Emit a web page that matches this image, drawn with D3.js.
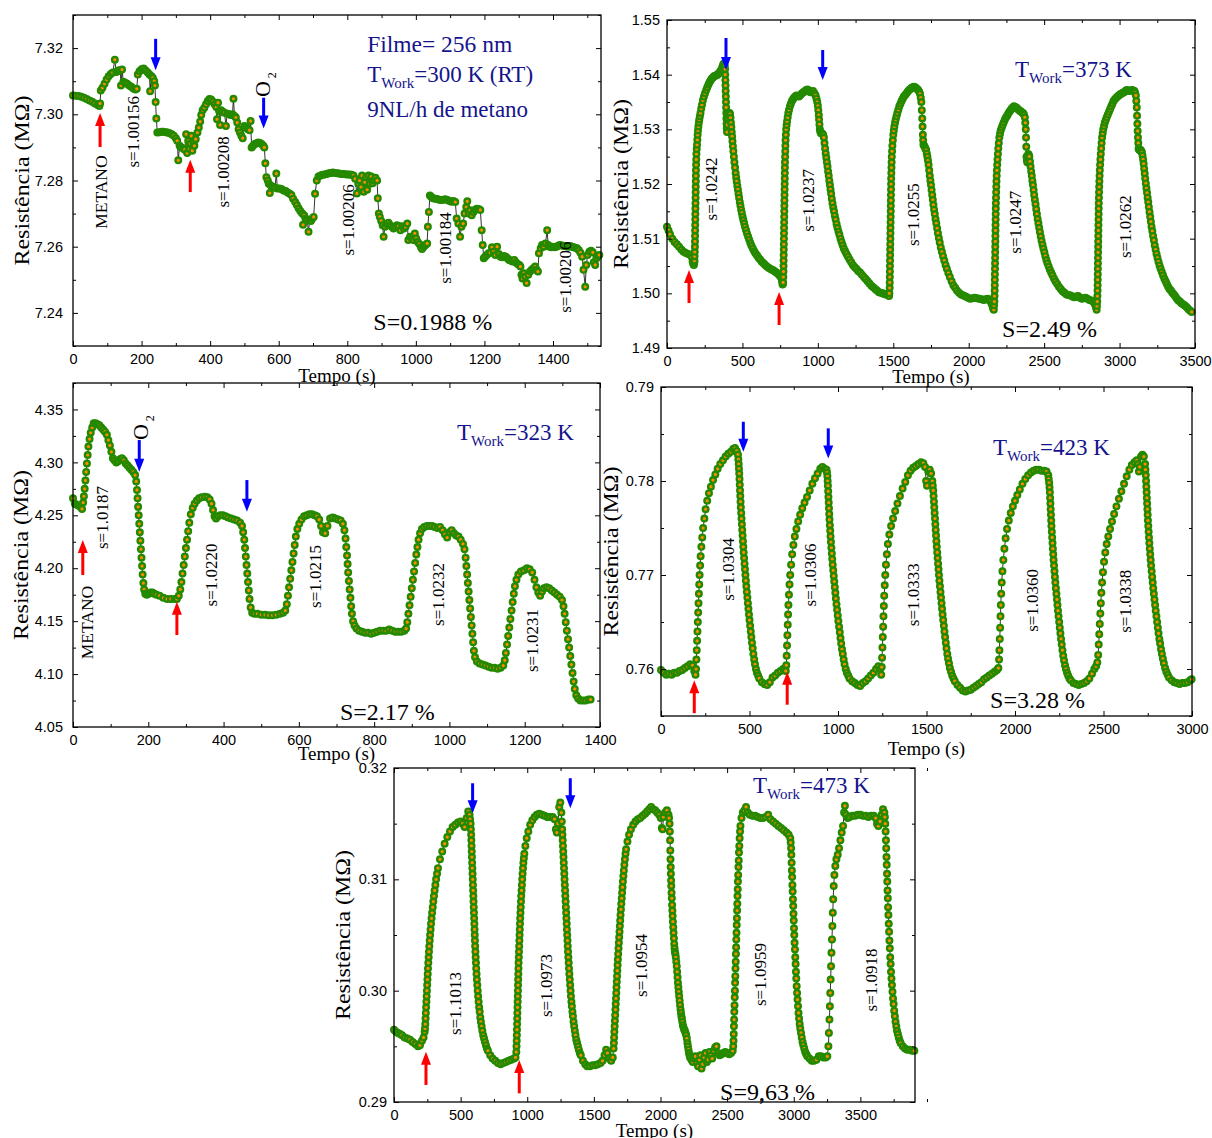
<!DOCTYPE html>
<html>
<head>
<meta charset="utf-8">
<script src="https://cdn.jsdelivr.net/npm/d3@7"></script>
<style>
  body { margin: 0; background: #fff; }
  svg { display: block; }
</style>
</head>
<body>
<svg id="fig" width="1212" height="1138"></svg>
<script>
// ---------------- Medidas: resistência (MΩ) x tempo (s) ----------------

// 300 K (temperatura ambiente)
const curva300K = [[0,7.3057],[8,7.3056],[16,7.3055],[24,7.3053],[32,7.3050],[40,7.3046],[48,7.3042],[56,7.3038],[64,7.3033],[72,7.3028],[77,7.3025],[79,7.3033],[81,7.3072],[86,7.3080],[92,7.3092],[98,7.3105],[104,7.3115],[110,7.3122],[116,7.3126],[122,7.3165],[126,7.3128],[130,7.3130],[134,7.3133],[138,7.3132],[140,7.3087],[143,7.3135],[147,7.3098],[152,7.3095],[158,7.3092],[164,7.3087],[170,7.3083],[176,7.3078],[182,7.3075],[186,7.3077],[189,7.3120],[194,7.3130],[200,7.3136],[206,7.3138],[212,7.3132],[218,7.3126],[223,7.3120],[225,7.3070],[229,7.3115],[233,7.3110],[237,7.3100],[239,7.3087],[241,7.3037],[243,7.2987],[246,7.2945],[252,7.2946],[258,7.2947],[264,7.2947],[270,7.2946],[276,7.2945],[282,7.2943],[288,7.2940],[294,7.2935],[300,7.2928],[304,7.2920],[307,7.2861],[311,7.2905],[316,7.2900],[322,7.2897],[326,7.2893],[330,7.2940],[333,7.2883],[336,7.2920],[339,7.2895],[342,7.2912],[345,7.2935],[348,7.2890],[351,7.2915],[354,7.2905],[358,7.2925],[363,7.2945],[367,7.2960],[371,7.2978],[374,7.2998],[378,7.3012],[383,7.3020],[388,7.3030],[393,7.3040],[398,7.3046],[403,7.3045],[408,7.3038],[413,7.3030],[418,7.3022],[420,7.2985],[423,7.3035],[426,7.3010],[429,7.2968],[432,7.3012],[437,7.3008],[442,7.3005],[446,7.2965],[450,7.3002],[455,7.3000],[460,7.2998],[465,7.3000],[468,7.3047],[471,7.2995],[475,7.2990],[479,7.2975],[483,7.2955],[487,7.2945],[491,7.2935],[495,7.2928],[500,7.2965],[505,7.2960],[510,7.2955],[515,7.2952],[518,7.2980],[521,7.2900],[525,7.2905],[530,7.2910],[535,7.2912],[540,7.2915],[545,7.2913],[550,7.2910],[555,7.2905],[558,7.2900],[561,7.2852],[564,7.2810],[568,7.2800],[571,7.2790],[574,7.2762],[577,7.2785],[581,7.2780],[585,7.2780],[589,7.2778],[593,7.2821],[596,7.2776],[602,7.2776],[608,7.2774],[614,7.2770],[620,7.2768],[626,7.2764],[632,7.2760],[637,7.2756],[642,7.2745],[648,7.2735],[653,7.2726],[658,7.2716],[663,7.2708],[668,7.2701],[671,7.2666],[674,7.2695],[678,7.2685],[683,7.2682],[687,7.2645],[690,7.2680],[694,7.2678],[698,7.2685],[702,7.2690],[706,7.2760],[711,7.2800],[716,7.2812],[722,7.2815],[728,7.2817],[734,7.2818],[740,7.2820],[746,7.2822],[752,7.2823],[758,7.2824],[764,7.2823],[770,7.2822],[776,7.2821],[782,7.2820],[788,7.2820],[794,7.2819],[800,7.2818],[806,7.2818],[812,7.2817],[818,7.2815],[823,7.2805],[828,7.2761],[832,7.2790],[836,7.2800],[840,7.2780],[843,7.2815],[848,7.2766],[851,7.2795],[855,7.2810],[858,7.2772],[862,7.2815],[866,7.2790],[870,7.2812],[874,7.2792],[878,7.2800],[882,7.2808],[887,7.2800],[889,7.2746],[892,7.2700],[895,7.2690],[899,7.2678],[903,7.2665],[906,7.2630],[910,7.2660],[915,7.2668],[920,7.2672],[925,7.2665],[930,7.2660],[935,7.2655],[940,7.2660],[945,7.2665],[950,7.2662],[955,7.2650],[960,7.2662],[965,7.2655],[970,7.2660],[975,7.2670],[978,7.2620],[983,7.2630],[988,7.2625],[993,7.2620],[997,7.2640],[1001,7.2625],[1005,7.2615],[1010,7.2608],[1015,7.2598],[1018,7.2593],[1023,7.2600],[1028,7.2605],[1033,7.2610],[1035,7.2660],[1038,7.2705],[1041,7.2755],[1045,7.2750],[1050,7.2746],[1056,7.2745],[1062,7.2744],[1068,7.2742],[1074,7.2741],[1080,7.2742],[1086,7.2743],[1092,7.2741],[1098,7.2738],[1104,7.2736],[1110,7.2738],[1115,7.2735],[1119,7.2685],[1124,7.2670],[1129,7.2630],[1133,7.2660],[1138,7.2670],[1142,7.2700],[1147,7.2720],[1150,7.2737],[1154,7.2700],[1158,7.2710],[1163,7.2695],[1168,7.2705],[1173,7.2712],[1178,7.2715],[1183,7.2714],[1188,7.2711],[1192,7.2650],[1195,7.2605],[1198,7.2565],[1202,7.2570],[1207,7.2575],[1212,7.2580],[1217,7.2582],[1222,7.2598],[1227,7.2585],[1232,7.2575],[1237,7.2600],[1242,7.2578],[1247,7.2570],[1252,7.2568],[1257,7.2572],[1262,7.2570],[1267,7.2565],[1272,7.2560],[1277,7.2558],[1282,7.2555],[1287,7.2560],[1292,7.2552],[1297,7.2548],[1302,7.2545],[1305,7.2540],[1308,7.2515],[1311,7.2504],[1315,7.2520],[1319,7.2510],[1323,7.2490],[1328,7.2515],[1333,7.2525],[1338,7.2530],[1343,7.2535],[1348,7.2540],[1352,7.2530],[1356,7.2525],[1359,7.2580],[1364,7.2595],[1368,7.2605],[1373,7.2600],[1378,7.2610],[1383,7.2650],[1386,7.2605],[1390,7.2600],[1395,7.2598],[1400,7.2600],[1405,7.2598],[1410,7.2600],[1415,7.2603],[1420,7.2605],[1425,7.2604],[1430,7.2603],[1435,7.2602],[1440,7.2601],[1445,7.2600],[1450,7.2602],[1455,7.2600],[1460,7.2598],[1465,7.2597],[1470,7.2595],[1475,7.2590],[1480,7.2582],[1485,7.2570],[1489,7.2530],[1494,7.2479],[1497,7.2545],[1501,7.2575],[1506,7.2585],[1511,7.2588],[1516,7.2583],[1519,7.2553],[1523,7.2545],[1527,7.2565],[1531,7.2572],[1535,7.2575]];

// 373 K
const curva373K = [[0,1.5122],[10,1.5115],[20,1.5108],[35,1.5100],[50,1.5094],[65,1.5090],[80,1.5085],[95,1.5080],[110,1.5076],[125,1.5074],[140,1.5072],[155,1.5070],[165,1.5066],[170,1.5058],[175,1.5053],[178,1.5052],[181,1.5056],[182,1.5060],[183,1.5068],[184,1.5076],[185,1.5085],[185.5,1.5095],[186,1.5105],[186.5,1.5115],[187,1.5125],[187.5,1.5135],[188,1.5145],[188.5,1.5155],[189,1.5165],[189.5,1.5175],[190,1.5185],[190.5,1.5195],[191,1.5205],[191.5,1.5215],[192,1.5225],[193,1.5235],[194,1.5245],[195,1.5255],[197,1.5264],[199,1.5272],[201,1.5281],[203,1.5290],[205.5,1.5298],[208,1.5305],[211,1.5312],[214,1.5318],[218,1.5324],[222,1.5330],[227,1.5338],[232,1.5345],[238,1.5353],[245,1.5360],[252,1.5366],[260,1.5372],[267,1.5377],[275,1.5382],[282,1.5386],[290,1.5390],[297,1.5393],[305,1.5395],[312,1.5397],[320,1.5398],[327,1.5399],[335,1.5400],[342,1.5402],[350,1.5405],[356,1.5407],[362,1.5410],[367,1.5414],[372,1.5418],[376,1.5420],[380,1.5420],[383,1.5416],[385,1.5410],[386,1.5400],[387,1.5390],[388,1.5380],[389,1.5370],[390,1.5360],[391,1.5350],[392,1.5340],[393,1.5330],[394,1.5320],[395,1.5310],[396,1.5302],[398,1.5295],[400,1.5308],[403,1.5320],[406,1.5326],[410,1.5330],[414,1.5330],[418,1.5328],[421,1.5321],[424,1.5312],[426.5,1.5304],[429,1.5295],[431.5,1.5287],[434,1.5278],[437,1.5269],[440,1.5260],[443.5,1.5250],[447,1.5240],[451,1.5230],[455,1.5220],[458.5,1.5212],[462,1.5205],[466,1.5197],[470,1.5190],[474,1.5182],[478,1.5175],[482.5,1.5167],[487,1.5160],[491.5,1.5153],[496,1.5147],[501,1.5140],[506,1.5134],[511.5,1.5128],[517,1.5122],[523.5,1.5116],[530,1.5110],[537.5,1.5104],[545,1.5098],[552.5,1.5092],[560,1.5087],[569,1.5082],[578,1.5077],[587,1.5073],[597,1.5069],[607,1.5065],[617,1.5062],[628,1.5058],[640,1.5055],[651,1.5052],[662,1.5049],[673,1.5047],[685,1.5045],[695,1.5043],[705,1.5042],[715,1.5040],[725,1.5038],[735,1.5036],[745,1.5033],[752,1.5031],[758,1.5028],[762,1.5022],[766,1.5016],[769,1.5018],[770,1.5020],[771,1.5030],[772,1.5040],[772.5,1.5050],[773,1.5060],[773.5,1.5070],[774,1.5080],[774.5,1.5090],[775,1.5100],[775.5,1.5110],[776,1.5120],[776.5,1.5130],[777,1.5140],[777.5,1.5150],[778,1.5160],[778.5,1.5170],[779,1.5180],[779.5,1.5190],[780,1.5200],[780.5,1.5210],[781,1.5220],[781.5,1.5230],[782,1.5240],[783,1.5250],[784,1.5260],[785,1.5270],[786,1.5280],[788,1.5290],[790,1.5300],[793,1.5308],[796,1.5315],[800,1.5322],[804,1.5330],[809,1.5336],[815,1.5342],[821,1.5347],[828,1.5352],[835,1.5355],[842,1.5358],[850,1.5360],[858,1.5362],[866,1.5361],[875,1.5360],[885,1.5363],[895,1.5366],[905,1.5368],[915,1.5370],[923,1.5372],[932,1.5373],[941,1.5370],[950,1.5368],[959,1.5369],[968,1.5370],[977,1.5366],[985,1.5362],[991,1.5356],[996,1.5350],[1000,1.5343],[1003,1.5335],[1006,1.5326],[1008,1.5318],[1010.5,1.5309],[1013,1.5300],[1016,1.5296],[1020,1.5293],[1025,1.5293],[1030,1.5292],[1035,1.5290],[1040,1.5285],[1044,1.5275],[1048,1.5265],[1052,1.5256],[1056,1.5248],[1060,1.5240],[1064,1.5232],[1068,1.5223],[1072,1.5215],[1076,1.5206],[1080,1.5198],[1084,1.5190],[1088,1.5182],[1092.5,1.5173],[1097,1.5165],[1102,1.5157],[1107,1.5150],[1112.5,1.5142],[1118,1.5135],[1124,1.5127],[1130,1.5120],[1136.5,1.5113],[1143,1.5107],[1150,1.5100],[1157,1.5094],[1164.5,1.5088],[1172,1.5082],[1181,1.5077],[1190,1.5072],[1200,1.5067],[1210,1.5062],[1221,1.5057],[1232,1.5052],[1243,1.5048],[1255,1.5045],[1267,1.5041],[1280,1.5038],[1292,1.5034],[1305,1.5030],[1317,1.5026],[1330,1.5022],[1342,1.5018],[1355,1.5014],[1367,1.5011],[1380,1.5008],[1392,1.5005],[1405,1.5002],[1417,1.5001],[1430,1.5000],[1440,1.4999],[1450,1.4998],[1458,1.4999],[1465,1.4998],[1469,1.4996],[1472,1.4995],[1474,1.5000],[1476,1.5010],[1476.5,1.5020],[1477,1.5030],[1477.5,1.5040],[1478,1.5050],[1478.5,1.5060],[1479,1.5070],[1479.5,1.5080],[1480,1.5090],[1480.5,1.5100],[1481,1.5110],[1481.5,1.5120],[1482,1.5130],[1482.5,1.5140],[1483,1.5150],[1483.5,1.5160],[1484,1.5170],[1484.5,1.5180],[1485,1.5190],[1485.5,1.5200],[1486,1.5210],[1487,1.5220],[1488,1.5230],[1489,1.5240],[1490,1.5250],[1492,1.5260],[1494,1.5270],[1497,1.5280],[1500,1.5290],[1503.5,1.5298],[1507,1.5305],[1511.5,1.5312],[1516,1.5318],[1521.5,1.5324],[1527,1.5330],[1533.5,1.5336],[1540,1.5342],[1547.5,1.5347],[1555,1.5352],[1562.5,1.5356],[1570,1.5360],[1579,1.5363],[1588,1.5366],[1596.5,1.5369],[1605,1.5372],[1613.5,1.5374],[1622,1.5376],[1630,1.5377],[1637,1.5378],[1645,1.5377],[1652,1.5375],[1658,1.5374],[1665,1.5372],[1671,1.5369],[1677,1.5365],[1682,1.5358],[1686,1.5350],[1689,1.5335],[1692,1.5320],[1694,1.5305],[1696,1.5290],[1698,1.5280],[1700,1.5272],[1704,1.5270],[1708,1.5268],[1713,1.5265],[1718,1.5262],[1722,1.5256],[1726,1.5250],[1730,1.5243],[1734,1.5235],[1738,1.5225],[1742,1.5215],[1746,1.5206],[1750,1.5198],[1754,1.5189],[1758,1.5180],[1762,1.5171],[1766,1.5162],[1770.5,1.5153],[1775,1.5145],[1780,1.5136],[1785,1.5128],[1790.5,1.5119],[1796,1.5110],[1802,1.5101],[1808,1.5093],[1815,1.5084],[1822,1.5076],[1830,1.5068],[1838,1.5060],[1846.5,1.5052],[1855,1.5045],[1865,1.5037],[1875,1.5030],[1886.5,1.5022],[1898,1.5015],[1910,1.5010],[1922,1.5005],[1936,1.5001],[1950,1.4998],[1965,1.4996],[1980,1.4994],[1995,1.4992],[2010,1.4990],[2025,1.4991],[2040,1.4992],[2055,1.4991],[2070,1.4990],[2085,1.4989],[2100,1.4988],[2112,1.4989],[2125,1.4990],[2135,1.4988],[2145,1.4985],[2153,1.4980],[2160,1.4975],[2163,1.4972],[2166,1.4970],[2168,1.4978],[2170,1.4985],[2171,1.4995],[2172,1.5005],[2172.5,1.5015],[2173,1.5025],[2173.5,1.5035],[2174,1.5045],[2174.5,1.5055],[2175,1.5065],[2175.5,1.5075],[2176,1.5085],[2176.5,1.5095],[2177,1.5105],[2177.5,1.5115],[2178,1.5125],[2178.5,1.5135],[2179,1.5145],[2179.5,1.5155],[2180,1.5165],[2181,1.5175],[2182,1.5185],[2183,1.5195],[2184,1.5205],[2185.5,1.5215],[2187,1.5225],[2189,1.5235],[2191,1.5245],[2193.5,1.5255],[2196,1.5265],[2199.5,1.5275],[2203,1.5285],[2207.5,1.5292],[2212,1.5298],[2218.5,1.5303],[2225,1.5308],[2232.5,1.5313],[2240,1.5318],[2247.5,1.5322],[2255,1.5325],[2262.5,1.5329],[2270,1.5332],[2277.5,1.5335],[2285,1.5338],[2292.5,1.5340],[2300,1.5342],[2307.5,1.5341],[2315,1.5340],[2322.5,1.5338],[2330,1.5336],[2337.5,1.5334],[2345,1.5333],[2352.5,1.5331],[2360,1.5330],[2366,1.5327],[2372,1.5322],[2375,1.5312],[2378,1.5300],[2380,1.5285],[2381.5,1.5268],[2383,1.5250],[2385.5,1.5244],[2388,1.5240],[2391.5,1.5248],[2395,1.5255],[2398.5,1.5253],[2402,1.5250],[2406,1.5241],[2410,1.5232],[2414,1.5223],[2418,1.5215],[2422,1.5206],[2426,1.5198],[2430,1.5189],[2434,1.5180],[2438.5,1.5171],[2443,1.5163],[2447.5,1.5154],[2452,1.5145],[2457,1.5136],[2462,1.5128],[2467,1.5120],[2472,1.5112],[2477.5,1.5104],[2483,1.5096],[2489,1.5089],[2495,1.5082],[2501.5,1.5075],[2508,1.5068],[2515,1.5061],[2522,1.5055],[2530,1.5049],[2538,1.5043],[2546.5,1.5038],[2555,1.5033],[2565,1.5027],[2575,1.5022],[2586.5,1.5017],[2598,1.5012],[2610,1.5008],[2622,1.5004],[2635,1.5001],[2648,1.4998],[2661,1.4997],[2675,1.4996],[2687,1.4994],[2700,1.4993],[2712,1.4994],[2725,1.4995],[2737,1.4992],[2750,1.4990],[2762,1.4991],[2775,1.4992],[2787,1.4990],[2800,1.4988],[2812,1.4987],[2825,1.4985],[2833,1.4982],[2840,1.4978],[2844,1.4974],[2848,1.4970],[2850,1.4977],[2852,1.4985],[2853,1.4995],[2854,1.5005],[2854.5,1.5015],[2855,1.5025],[2855.5,1.5035],[2856,1.5045],[2856.5,1.5055],[2857,1.5065],[2857.5,1.5075],[2858,1.5085],[2858.5,1.5095],[2859,1.5105],[2859.5,1.5115],[2860,1.5125],[2860.5,1.5135],[2861,1.5145],[2861.5,1.5155],[2862,1.5165],[2863,1.5175],[2864,1.5185],[2865,1.5195],[2866,1.5205],[2867.5,1.5215],[2869,1.5225],[2871,1.5235],[2873,1.5245],[2875.5,1.5255],[2878,1.5265],[2881,1.5275],[2884,1.5285],[2888,1.5293],[2892,1.5300],[2897,1.5306],[2902,1.5312],[2908.5,1.5317],[2915,1.5322],[2922.5,1.5327],[2930,1.5332],[2937.5,1.5337],[2945,1.5342],[2952.5,1.5347],[2960,1.5352],[2969,1.5355],[2978,1.5358],[2986.5,1.5360],[2995,1.5362],[3003.5,1.5364],[3012,1.5365],[3021,1.5367],[3030,1.5368],[3038.5,1.5370],[3047,1.5372],[3056,1.5371],[3065,1.5370],[3073.5,1.5371],[3082,1.5372],[3090,1.5371],[3098,1.5370],[3103,1.5367],[3108,1.5362],[3111,1.5352],[3114,1.5340],[3116,1.5325],[3118,1.5310],[3120,1.5297],[3122,1.5285],[3124,1.5275],[3126,1.5265],[3129,1.5263],[3132,1.5262],[3136,1.5262],[3140,1.5262],[3144,1.5260],[3148,1.5258],[3152,1.5252],[3156,1.5245],[3159.5,1.5237],[3163,1.5228],[3166.5,1.5219],[3170,1.5210],[3174,1.5201],[3178,1.5192],[3182,1.5184],[3186,1.5175],[3190,1.5167],[3194,1.5158],[3198.5,1.5149],[3203,1.5140],[3207.5,1.5131],[3212,1.5122],[3217,1.5114],[3222,1.5105],[3227.5,1.5097],[3233,1.5088],[3239,1.5080],[3245,1.5072],[3251.5,1.5065],[3258,1.5058],[3265,1.5051],[3272,1.5045],[3280,1.5039],[3288,1.5033],[3296.5,1.5027],[3305,1.5022],[3313.5,1.5017],[3322,1.5012],[3331,1.5008],[3340,1.5005],[3350,1.5001],[3360,1.4998],[3370,1.4994],[3380,1.4990],[3390,1.4987],[3400,1.4985],[3410,1.4982],[3420,1.4980],[3430,1.4978],[3440,1.4976],[3450,1.4973],[3460,1.4970],[3469,1.4968],[3478,1.4966]];

// 323 K
const curva323K = [[0,4.266],[5,4.261],[10,4.260],[15,4.259],[20,4.258],[24,4.256],[27,4.262],[29,4.268],[31,4.275],[33,4.283],[35,4.291],[37,4.299],[39,4.307],[41,4.315],[44,4.322],[47,4.328],[51,4.333],[55,4.337],[60,4.337],[65,4.336],[70,4.335],[75,4.333],[80,4.331],[85,4.329],[90,4.326],[94,4.321],[98,4.316],[102,4.310],[106,4.304],[110,4.302],[115,4.300],[120,4.301],[125,4.303],[130,4.304],[135,4.302],[140,4.299],[145,4.297],[150,4.295],[155,4.293],[160,4.291],[165,4.288],[168,4.282],[170,4.274],[171.5,4.266],[173,4.258],[174.5,4.250],[176,4.242],[177.5,4.234],[179,4.226],[180.5,4.218],[182,4.210],[183.5,4.202],[185,4.194],[187,4.186],[189,4.180],[192,4.176],[196,4.175],[201,4.176],[206,4.177],[211,4.177],[216,4.176],[222,4.175],[230,4.174],[240,4.172],[250,4.171],[260,4.171],[270,4.171],[276,4.171],[281,4.174],[285,4.180],[288,4.187],[291,4.195],[294,4.203],[297,4.211],[300,4.219],[303,4.227],[306,4.235],[309,4.243],[313,4.251],[318,4.257],[323,4.261],[329,4.264],[335,4.266],[342,4.267],[350,4.2675],[357,4.267],[363,4.265],[368,4.261],[372,4.255],[376,4.249],[380,4.247],[385,4.249],[391,4.250],[398,4.250],[405,4.249],[412,4.248],[420,4.247],[428,4.246],[436,4.245],[444,4.243],[449,4.240],[452,4.234],[455,4.227],[457,4.219],[459,4.211],[461,4.203],[463,4.195],[465,4.187],[467,4.179],[469,4.171],[472,4.163],[476,4.158],[482,4.157],[490,4.157],[500,4.156],[510,4.156],[520,4.1555],[530,4.1555],[540,4.156],[550,4.157],[558,4.158],[564,4.160],[568,4.166],[571,4.174],[574,4.182],[577,4.190],[580,4.198],[583,4.206],[586,4.214],[589,4.222],[592,4.230],[596,4.237],[601,4.242],[607,4.246],[614,4.249],[621,4.250],[628,4.251],[635,4.251],[642,4.250],[648,4.249],[654,4.246],[659,4.240],[664,4.234],[670,4.233],[676,4.240],[683,4.247],[690,4.248],[697,4.247],[704,4.246],[711,4.245],[717,4.242],[721,4.236],[724,4.228],[726,4.220],[728,4.212],[729.5,4.204],[731,4.196],[733,4.188],[735,4.180],[737,4.172],[739,4.164],[741,4.157],[744,4.150],[748,4.146],[753,4.143],[760,4.141],[768,4.140],[776,4.139],[784,4.139],[792,4.138],[800,4.139],[808,4.140],[816,4.141],[824,4.141],[832,4.141],[840,4.142],[848,4.141],[856,4.140],[864,4.140],[872,4.140],[880,4.141],[885,4.143],[888,4.149],[891,4.157],[894,4.165],[897,4.173],[900,4.181],[903,4.189],[906,4.197],[909,4.205],[912,4.213],[915,4.220],[918,4.227],[922,4.233],[927,4.237],[933,4.239],[940,4.240],[947,4.240],[954,4.240],[961,4.239],[968,4.238],[975,4.239],[982,4.236],[988,4.232],[994,4.229],[1000,4.234],[1006,4.236],[1012,4.233],[1018,4.231],[1024,4.230],[1030,4.227],[1036,4.223],[1040,4.218],[1043,4.210],[1045,4.202],[1047,4.194],[1049,4.186],[1051,4.178],[1053,4.170],[1055,4.162],[1057,4.154],[1059,4.146],[1061,4.138],[1063,4.130],[1065,4.122],[1068,4.116],[1073,4.112],[1080,4.110],[1088,4.109],[1096,4.108],[1104,4.107],[1112,4.106],[1120,4.106],[1128,4.105],[1136,4.106],[1143,4.108],[1147,4.113],[1150,4.120],[1153,4.128],[1156,4.136],[1159,4.144],[1162,4.152],[1165,4.160],[1168,4.168],[1171,4.176],[1174,4.183],[1178,4.189],[1183,4.194],[1190,4.197],[1198,4.198],[1206,4.200],[1213,4.199],[1220,4.196],[1226,4.189],[1231,4.182],[1236,4.177],[1241,4.174],[1246,4.178],[1251,4.181],[1258,4.182],[1265,4.181],[1272,4.179],[1279,4.177],[1286,4.175],[1293,4.173],[1299,4.170],[1303,4.164],[1306,4.157],[1309,4.149],[1312,4.141],[1315,4.133],[1318,4.125],[1321,4.117],[1324,4.109],[1327,4.101],[1330,4.093],[1333,4.086],[1337,4.080],[1342,4.077],[1348,4.075],[1355,4.075],[1362,4.075],[1369,4.076],[1375,4.076]];

// 423 K
const curva423K = [[0,0.7599],[15,0.7596],[30,0.7594],[45,0.7595],[60,0.7594],[75,0.7596],[90,0.7596],[105,0.7598],[120,0.7599],[135,0.7601],[150,0.7603],[165,0.7605],[178,0.7604],[188,0.7598],[195,0.7594],[198,0.7600],[200,0.7610],[202,0.7620],[204,0.7630],[206,0.7640],[208,0.7650],[210,0.7660],[212,0.7670],[214,0.7680],[216,0.7690],[218,0.7700],[221,0.7710],[224,0.7720],[228,0.7730],[233,0.7740],[238,0.7750],[245,0.7760],[252,0.7770],[261,0.7779],[271,0.7787],[282,0.7794],[294,0.7801],[307,0.7807],[320,0.7813],[335,0.7818],[350,0.7822],[365,0.7826],[380,0.7829],[395,0.7831],[408,0.7834],[418,0.7835],[428,0.7832],[435,0.7828],[437,0.7823],[439,0.7818],[440.5,0.7813],[442,0.7808],[443.5,0.7802],[445,0.7796],[446.5,0.7790],[448,0.7784],[449.5,0.7778],[451,0.7772],[453,0.7766],[455,0.7760],[457,0.7754],[459,0.7748],[461,0.7742],[463,0.7736],[465,0.7730],[467,0.7724],[469.5,0.7718],[472,0.7712],[474.5,0.7706],[477,0.7700],[479.5,0.7694],[482,0.7688],[485,0.7682],[488,0.7676],[491,0.7670],[494,0.7664],[497,0.7658],[500,0.7652],[503.5,0.7646],[507,0.7640],[510.5,0.7634],[514,0.7628],[518,0.7622],[522,0.7616],[526.5,0.7610],[531,0.7605],[536.5,0.7600],[542,0.7596],[548.5,0.7593],[555,0.7590],[570,0.7586],[585,0.7584],[600,0.7583],[615,0.7586],[630,0.7591],[645,0.7593],[660,0.7596],[675,0.7598],[690,0.7600],[700,0.7601],[705,0.7598],[708,0.7604],[710,0.7614],[712,0.7625],[714,0.7636],[716,0.7647],[718,0.7658],[720,0.7668],[723,0.7679],[726,0.7690],[730,0.7700],[735,0.7711],[741,0.7722],[748,0.7732],[756,0.7741],[765,0.7749],[775,0.7757],[786,0.7764],[798,0.7771],[811,0.7777],[825,0.7783],[840,0.7790],[855,0.7797],[870,0.7803],[885,0.7808],[900,0.7813],[912,0.7815],[925,0.7813],[935,0.7812],[937.5,0.7809],[940,0.7805],[941.5,0.7800],[943,0.7795],[944.5,0.7789],[946,0.7783],[947.5,0.7777],[949,0.7771],[950.5,0.7765],[952,0.7759],[954,0.7753],[956,0.7747],[958,0.7741],[960,0.7735],[962.5,0.7729],[965,0.7723],[967.5,0.7717],[970,0.7711],[973,0.7705],[976,0.7699],[979,0.7693],[982,0.7687],[985,0.7681],[988,0.7675],[991.5,0.7669],[995,0.7663],[998.5,0.7657],[1002,0.7651],[1006,0.7645],[1010,0.7639],[1014,0.7633],[1018,0.7627],[1022.5,0.7621],[1027,0.7616],[1032,0.7610],[1037,0.7605],[1043.5,0.7600],[1050,0.7596],[1057.5,0.7593],[1065,0.7590],[1080,0.7587],[1095,0.7585],[1110,0.7583],[1125,0.7582],[1140,0.7585],[1155,0.7587],[1170,0.7590],[1185,0.7593],[1200,0.7596],[1215,0.7600],[1228,0.7603],[1238,0.7600],[1244,0.7594],[1247,0.7602],[1249,0.7612],[1251,0.7623],[1253,0.7634],[1255,0.7645],[1257,0.7656],[1259,0.7667],[1261,0.7678],[1264,0.7689],[1267,0.7700],[1271,0.7711],[1276,0.7722],[1282,0.7733],[1290,0.7743],[1300,0.7752],[1311,0.7760],[1323,0.7768],[1336,0.7776],[1350,0.7784],[1365,0.7792],[1380,0.7799],[1395,0.7806],[1410,0.7811],[1425,0.7814],[1440,0.7816],[1455,0.7818],[1470,0.7820],[1482,0.7819],[1492,0.7815],[1498,0.7800],[1503,0.7795],[1510,0.7810],[1518,0.7812],[1526,0.7808],[1533,0.7800],[1535.5,0.7795],[1538,0.7790],[1540,0.7784],[1542,0.7778],[1544,0.7772],[1546,0.7766],[1548,0.7760],[1550,0.7754],[1552,0.7748],[1554,0.7742],[1556,0.7736],[1558,0.7730],[1560.5,0.7724],[1563,0.7718],[1565.5,0.7712],[1568,0.7706],[1570.5,0.7700],[1573,0.7694],[1576,0.7688],[1579,0.7682],[1582,0.7676],[1585,0.7670],[1588,0.7664],[1591,0.7658],[1594.5,0.7652],[1598,0.7646],[1601.5,0.7640],[1605,0.7634],[1609,0.7628],[1613,0.7622],[1617.5,0.7616],[1622,0.7611],[1627,0.7606],[1632,0.7601],[1638.5,0.7597],[1645,0.7593],[1652.5,0.7590],[1660,0.7587],[1675,0.7583],[1690,0.7580],[1705,0.7577],[1720,0.7576],[1735,0.7577],[1750,0.7578],[1765,0.7580],[1780,0.7582],[1795,0.7584],[1810,0.7586],[1825,0.7589],[1840,0.7591],[1855,0.7593],[1870,0.7595],[1885,0.7597],[1898,0.7599],[1906,0.7601],[1910,0.7610],[1912,0.7620],[1914,0.7632],[1916,0.7644],[1918,0.7656],[1920,0.7668],[1922,0.7680],[1925,0.7692],[1929,0.7704],[1934,0.7716],[1940,0.7728],[1947,0.7739],[1955,0.7749],[1965,0.7758],[1976,0.7766],[1988,0.7773],[2000,0.7779],[2013,0.7785],[2027,0.7791],[2042,0.7797],[2058,0.7802],[2074,0.7806],[2090,0.7809],[2105,0.7811],[2120,0.7812],[2135,0.7812],[2150,0.7811],[2165,0.7811],[2178,0.7810],[2188,0.7806],[2190.5,0.7802],[2193,0.7798],[2195,0.7793],[2197,0.7788],[2198.5,0.7782],[2200,0.7776],[2201.5,0.7770],[2203,0.7764],[2204.5,0.7758],[2206,0.7752],[2208,0.7746],[2210,0.7740],[2212,0.7734],[2214,0.7728],[2216,0.7722],[2218,0.7716],[2220.5,0.7710],[2223,0.7704],[2225.5,0.7698],[2228,0.7692],[2231,0.7686],[2234,0.7680],[2237,0.7674],[2240,0.7668],[2243,0.7662],[2246,0.7656],[2249.5,0.7650],[2253,0.7644],[2256.5,0.7638],[2260,0.7632],[2264,0.7626],[2268,0.7620],[2272.5,0.7614],[2277,0.7609],[2282.5,0.7604],[2288,0.7600],[2294,0.7596],[2300,0.7593],[2307.5,0.7590],[2315,0.7588],[2330,0.7585],[2345,0.7584],[2360,0.7583],[2375,0.7584],[2390,0.7585],[2405,0.7587],[2420,0.7590],[2435,0.7595],[2448,0.7600],[2458,0.7603],[2465,0.7607],[2470,0.7615],[2473,0.7626],[2476,0.7637],[2479,0.7648],[2482,0.7659],[2485,0.7670],[2488,0.7681],[2492,0.7692],[2497,0.7703],[2503,0.7714],[2510,0.7724],[2518,0.7733],[2527,0.7741],[2537,0.7749],[2548,0.7757],[2560,0.7765],[2573,0.7773],[2587,0.7781],[2601,0.7789],[2616,0.7797],[2631,0.7805],[2646,0.7812],[2660,0.7817],[2675,0.7820],[2688,0.7822],[2695,0.7818],[2700,0.7810],[2705,0.7815],[2712,0.7826],[2720,0.7828],[2728,0.7826],[2735,0.7818],[2737,0.7812],[2739,0.7806],[2740.5,0.7800],[2742,0.7794],[2743.5,0.7788],[2745,0.7782],[2746.5,0.7776],[2748,0.7770],[2749.5,0.7764],[2751,0.7758],[2753,0.7752],[2755,0.7746],[2757,0.7740],[2759,0.7734],[2761.5,0.7728],[2764,0.7722],[2766.5,0.7716],[2769,0.7710],[2772,0.7704],[2775,0.7698],[2778,0.7692],[2781,0.7686],[2784.5,0.7680],[2788,0.7674],[2791.5,0.7668],[2795,0.7662],[2799,0.7656],[2803,0.7650],[2807,0.7644],[2811,0.7638],[2815.5,0.7632],[2820,0.7627],[2825,0.7621],[2830,0.7616],[2835.5,0.7611],[2841,0.7606],[2848,0.7601],[2855,0.7597],[2862.5,0.7594],[2870,0.7591],[2885,0.7588],[2900,0.7586],[2915,0.7585],[2930,0.7584],[2945,0.7585],[2960,0.7585],[2975,0.7586],[2990,0.7588],[2998,0.7589]];

// 473 K
const curva473K = [[0,0.2965],[15,0.2963],[30,0.2962],[45,0.2961],[60,0.2960],[80,0.2958],[100,0.2957],[120,0.2956],[140,0.2954],[160,0.2952],[180,0.2950],[195,0.2951],[210,0.2955],[222,0.2958],[230,0.2963],[232.5,0.2966],[235,0.2970],[237,0.2975],[239,0.2980],[241,0.2985],[243,0.2990],[245,0.2995],[247,0.3000],[249,0.3005],[251,0.3010],[253,0.3015],[255,0.3020],[257.5,0.3025],[260,0.3030],[262.5,0.3035],[265,0.3040],[268,0.3045],[271,0.3050],[274.5,0.3055],[278,0.3060],[282,0.3065],[286,0.3070],[290.5,0.3075],[295,0.3080],[300,0.3085],[305,0.3090],[310.5,0.3095],[316,0.3100],[323,0.3105],[330,0.3110],[345,0.3118],[362,0.3125],[380,0.3132],[400,0.3138],[420,0.3143],[440,0.3147],[460,0.3149],[480,0.3151],[500,0.3152],[515,0.3150],[530,0.3147],[545,0.3155],[557,0.3161],[567,0.3158],[571,0.3154],[575,0.3150],[577,0.3145],[579,0.3140],[580.5,0.3135],[582,0.3130],[583.5,0.3125],[585,0.3120],[586.5,0.3115],[588,0.3110],[589.5,0.3105],[591,0.3100],[592.5,0.3095],[594,0.3090],[595.5,0.3085],[597,0.3080],[598.5,0.3075],[600,0.3070],[601.5,0.3065],[603,0.3060],[604.5,0.3055],[606,0.3050],[607.5,0.3045],[609,0.3040],[611,0.3035],[613,0.3030],[615,0.3025],[617,0.3020],[619.5,0.3015],[622,0.3010],[625,0.3005],[628,0.3000],[631.5,0.2995],[635,0.2990],[639,0.2985],[643,0.2981],[647.5,0.2976],[652,0.2972],[657.5,0.2968],[663,0.2964],[669.5,0.2960],[676,0.2957],[683,0.2954],[690,0.2951],[697.5,0.2948],[705,0.2946],[722,0.2942],[740,0.2939],[760,0.2937],[780,0.2935],[800,0.2934],[820,0.2935],[840,0.2936],[860,0.2937],[880,0.2938],[900,0.2939],[912,0.2940],[918,0.2945],[919.5,0.2950],[921,0.2955],[922,0.2960],[923,0.2965],[924,0.2970],[925,0.2975],[926,0.2980],[927,0.2985],[928,0.2990],[929,0.2995],[930,0.3000],[931,0.3005],[932,0.3010],[933,0.3015],[934,0.3020],[935,0.3025],[936.5,0.3030],[938,0.3035],[939.5,0.3040],[941,0.3045],[942.5,0.3050],[944,0.3055],[945.5,0.3060],[947,0.3065],[949,0.3070],[951,0.3075],[953,0.3080],[955,0.3085],[957.5,0.3090],[960,0.3095],[962.5,0.3100],[965,0.3105],[968,0.3110],[971,0.3115],[974.5,0.3119],[978,0.3123],[986,0.3130],[996,0.3137],[1008,0.3143],[1022,0.3149],[1038,0.3153],[1055,0.3156],[1072,0.3158],[1090,0.3159],[1110,0.3158],[1130,0.3157],[1150,0.3156],[1170,0.3156],[1190,0.3156],[1205,0.3154],[1215,0.3145],[1222,0.3142],[1230,0.3150],[1240,0.3165],[1248,0.3169],[1256,0.3160],[1259,0.3152],[1262,0.3145],[1264,0.3140],[1266,0.3135],[1268,0.3130],[1270,0.3125],[1272,0.3120],[1274,0.3115],[1276,0.3110],[1278,0.3105],[1280,0.3100],[1282,0.3095],[1284,0.3090],[1286,0.3085],[1288,0.3080],[1290,0.3075],[1292,0.3070],[1294,0.3065],[1296,0.3060],[1298,0.3055],[1300,0.3050],[1302,0.3045],[1304,0.3040],[1306,0.3035],[1308.5,0.3030],[1311,0.3025],[1313.5,0.3020],[1316,0.3015],[1319,0.3010],[1322,0.3005],[1325,0.3000],[1328,0.2995],[1331.5,0.2990],[1335,0.2986],[1339,0.2981],[1343,0.2977],[1347.5,0.2972],[1352,0.2968],[1357,0.2964],[1362,0.2960],[1368,0.2956],[1374,0.2953],[1380.5,0.2950],[1387,0.2947],[1394.5,0.2944],[1402,0.2942],[1418,0.2937],[1435,0.2934],[1450,0.2932],[1470,0.2932],[1490,0.2933],[1510,0.2933],[1530,0.2934],[1550,0.2935],[1565,0.2937],[1580,0.2942],[1592,0.2947],[1602,0.2944],[1615,0.2939],[1630,0.2937],[1642,0.2940],[1648,0.2948],[1650,0.2953],[1652,0.2958],[1654,0.2963],[1656,0.2968],[1658,0.2973],[1660,0.2978],[1662,0.2983],[1664,0.2988],[1666,0.2993],[1668,0.2998],[1670,0.3003],[1672,0.3008],[1674,0.3013],[1676,0.3018],[1678,0.3023],[1680,0.3028],[1682.5,0.3033],[1685,0.3038],[1687.5,0.3043],[1690,0.3048],[1692.5,0.3053],[1695,0.3058],[1697.5,0.3063],[1700,0.3068],[1703,0.3073],[1706,0.3078],[1709,0.3083],[1712,0.3088],[1715,0.3093],[1718,0.3098],[1721.5,0.3103],[1725,0.3108],[1729,0.3113],[1733,0.3118],[1737.5,0.3123],[1742,0.3127],[1752,0.3134],[1764,0.3140],[1778,0.3145],[1795,0.3149],[1812,0.3152],[1830,0.3154],[1848,0.3155],[1866,0.3157],[1884,0.3159],[1900,0.3161],[1915,0.3163],[1930,0.3165],[1945,0.3163],[1960,0.3162],[1975,0.3160],[1990,0.3158],[2002,0.3155],[2010,0.3146],[2016,0.3145],[2022,0.3156],[2035,0.3160],[2048,0.3162],[2060,0.3158],[2064,0.3155],[2068,0.3150],[2070,0.3143],[2072,0.3135],[2073.5,0.3126],[2075,0.3118],[2076.5,0.3111],[2078,0.3105],[2079.5,0.3099],[2081,0.3094],[2083,0.3088],[2085,0.3083],[2087,0.3077],[2089,0.3072],[2091,0.3067],[2093,0.3062],[2095.5,0.3057],[2098,0.3052],[2100.5,0.3047],[2103,0.3042],[2105.5,0.3038],[2108,0.3035],[2111.5,0.3033],[2115,0.3030],[2118.5,0.3026],[2122,0.3022],[2125,0.3017],[2128,0.3012],[2131,0.3007],[2134,0.3003],[2137,0.2999],[2140,0.2995],[2143.5,0.2991],[2147,0.2987],[2150.5,0.2983],[2154,0.2980],[2157,0.2977],[2160,0.2975],[2164,0.2972],[2168,0.2969],[2173,0.2967],[2178,0.2965],[2183,0.2964],[2188,0.2962],[2193,0.2960],[2198,0.2957],[2202,0.2953],[2206,0.2950],[2210,0.2947],[2214,0.2944],[2218,0.2942],[2222,0.2940],[2232,0.2938],[2242,0.2936],[2252,0.2939],[2262,0.2941],[2272,0.2935],[2282,0.2932],[2292,0.2938],[2300,0.2942],[2308,0.2930],[2318,0.2934],[2328,0.2940],[2338,0.2944],[2348,0.2936],[2358,0.2938],[2368,0.2945],[2378,0.2942],[2388,0.2939],[2400,0.2946],[2410,0.2949],[2420,0.2950],[2432,0.2944],[2444,0.2942],[2458,0.2943],[2472,0.2944],[2486,0.2945],[2500,0.2944],[2515,0.2943],[2530,0.2944],[2542,0.2946],[2546,0.2950],[2548,0.2955],[2549.5,0.2961],[2551,0.2968],[2552.5,0.2974],[2554,0.2981],[2555.5,0.2987],[2557,0.2994],[2558.5,0.3000],[2560,0.3007],[2561.5,0.3013],[2563,0.3020],[2564.5,0.3026],[2566,0.3033],[2567.5,0.3039],[2569,0.3046],[2570.5,0.3052],[2572,0.3059],[2573.5,0.3065],[2575,0.3072],[2576.5,0.3078],[2578,0.3085],[2579.5,0.3091],[2581,0.3098],[2583,0.3104],[2585,0.3111],[2587,0.3117],[2589,0.3124],[2591.5,0.3130],[2594,0.3137],[2597,0.3143],[2600,0.3148],[2608,0.3155],[2618,0.3160],[2630,0.3162],[2642,0.3165],[2655,0.3160],[2670,0.3158],[2690,0.3157],[2710,0.3157],[2730,0.3156],[2750,0.3155],[2770,0.3155],[2790,0.3156],[2808,0.3158],[2825,0.3154],[2845,0.3152],[2865,0.3150],[2885,0.3148],[2905,0.3146],[2925,0.3144],[2945,0.3142],[2962,0.3140],[2974,0.3137],[2977,0.3133],[2980,0.3128],[2982,0.3122],[2984,0.3115],[2986,0.3108],[2988,0.3102],[2990,0.3095],[2992,0.3089],[2994,0.3082],[2996,0.3076],[2998,0.3069],[3000,0.3063],[3002,0.3056],[3004,0.3050],[3006.5,0.3043],[3009,0.3037],[3011.5,0.3030],[3014,0.3024],[3016.5,0.3017],[3019,0.3011],[3022,0.3004],[3025,0.2998],[3028.5,0.2992],[3032,0.2986],[3036,0.2980],[3040,0.2975],[3044.5,0.2970],[3049,0.2966],[3054.5,0.2962],[3060,0.2958],[3066,0.2954],[3072,0.2951],[3079,0.2948],[3086,0.2945],[3094,0.2943],[3102,0.2941],[3118,0.2939],[3135,0.2937],[3152,0.2937],[3170,0.2938],[3188,0.2941],[3205,0.2941],[3222,0.2940],[3240,0.2940],[3252,0.2941],[3260,0.2950],[3264,0.2962],[3268,0.2974],[3271,0.2986],[3274,0.2998],[3277,0.3010],[3280,0.3022],[3283,0.3034],[3287,0.3046],[3290,0.3058],[3293,0.3070],[3296,0.3082],[3300,0.3094],[3305,0.3104],[3312,0.3112],[3320,0.3118],[3330,0.3122],[3340,0.3128],[3350,0.3135],[3360,0.3142],[3370,0.3148],[3378,0.3160],[3384,0.3166],[3392,0.3158],[3405,0.3155],[3420,0.3156],[3440,0.3157],[3460,0.3157],[3480,0.3158],[3500,0.3158],[3520,0.3157],[3540,0.3157],[3560,0.3156],[3580,0.3157],[3600,0.3157],[3615,0.3155],[3625,0.3150],[3635,0.3148],[3648,0.3152],[3660,0.3158],[3670,0.3163],[3680,0.3160],[3684,0.3156],[3687,0.3150],[3689.5,0.3143],[3692,0.3135],[3694,0.3128],[3696,0.3120],[3698,0.3113],[3700,0.3105],[3702,0.3098],[3704,0.3090],[3706,0.3083],[3708,0.3075],[3710.5,0.3068],[3713,0.3060],[3715.5,0.3053],[3718,0.3045],[3721,0.3038],[3724,0.3030],[3727,0.3024],[3730,0.3017],[3733.5,0.3011],[3737,0.3005],[3741,0.2999],[3745,0.2993],[3749.5,0.2988],[3754,0.2982],[3759,0.2977],[3764,0.2972],[3769.5,0.2968],[3775,0.2964],[3781.5,0.2961],[3788,0.2958],[3795,0.2955],[3802,0.2953],[3818,0.2950],[3835,0.2948],[3852,0.2947],[3870,0.2947],[3888,0.2946],[3905,0.2946]];

// Instantes de entrada de metano (seta vermelha) e de O2 (seta azul), em s
const metano300 = [79, 342];   const oxigenio300 = [241, 556];
const metano373 = [146, 743];  const oxigenio373 = [391, 1032];
const metano323 = [26, 276];   const oxigenio323 = [176, 462];
const metano423 = [188, 713];  const oxigenio423 = [465, 945];
const metano473 = [240, 940];  const oxigenio473 = [590, 1323];

// Sensibilidade de cada ciclo
const sens300 = ["s=1.00156", "s=1.00208", "s=1.00206", "s=1.00184", "s=1.00206"];
const sens373 = ["s=1.0242", "s=1.0237", "s=1.0255", "s=1.0247", "s=1.0262"];
const sens323 = ["s=1.0187", "s=1.0220", "s=1.0215", "s=1.0232", "s=1.0231"];
const sens423 = ["s=1.0304", "s=1.0306", "s=1.0333", "s=1.0360", "s=1.0338"];
const sens473 = ["s=1.1013", "s=1.0973", "s=1.0954", "s=1.0959", "s=1.0918"];

// Marcas dos eixos
const xTicks300 = [0, 200, 400, 600, 800, 1000, 1200, 1400];
const yTicks300 = [7.24, 7.26, 7.28, 7.30, 7.32];
const xTicks373 = [0, 500, 1000, 1500, 2000, 2500, 3000, 3500];
const yTicks373 = [1.49, 1.50, 1.51, 1.52, 1.53, 1.54, 1.55];
const xTicks323 = [0, 200, 400, 600, 800, 1000, 1200, 1400];
const yTicks323 = [4.05, 4.10, 4.15, 4.20, 4.25, 4.30, 4.35];
const xTicks423 = [0, 500, 1000, 1500, 2000, 2500, 3000];
const yTicks423 = [0.76, 0.77, 0.78, 0.79];
const xTicks473 = [0, 500, 1000, 1500, 2000, 2500, 3000, 3500];
const yTicks473 = [0.29, 0.30, 0.31, 0.32];

// ---------------- Estilo ----------------
const SERIF = "'Liberation Serif','Times New Roman',serif";
const SANS = "'Liberation Sans',Arial,sans-serif";
const NAVY = "#14148c";
const VERDE = "#238a00";
const LARANJA = "#ff8c00";

// ---------------- Configuração dos painéis ----------------
const paineis = [
  {
    serie: curva300K, xDom: [0, 1540], yDom: [7.23, 7.33], box: [73, 15, 601, 346],
    xTicks: xTicks300, xMinor: 100, yTicks: yTicks300, yMinor: 0.01, yPad: 10,
    yTitleX: 29, xTitleY: 382,
    setas: [[metano300[0], 7.2901, 7.3004, "#ff0000"], [metano300[1], 7.2765, 7.2863, "#ff0000"],
            [oxigenio300[0], 7.3228, 7.3133, "#0000ff"], [oxigenio300[1], 7.3050, 7.2957, "#0000ff"]],
    sens: sens300, sensPos: [[175, 7.2947], [438, 7.2826], [803, 7.2681], [1086, 7.2596], [1436, 7.2508]],
    metano: [82, 7.2765], o2: [575, 7.3052],
    total: ["S=0.1988 %", 876, 7.2348],
    bloco: { t: 858, v: [7.3188, 7.3098, 7.2992], temp: "=300 K (RT)",
             linhas: ["Filme= 256 nm", "9NL/h de metano"] }
  },
  {
    serie: curva373K, xDom: [0, 3500], yDom: [1.49, 1.55], box: [667, 20, 1195, 348],
    xTicks: xTicks373, xMinor: 250, yTicks: yTicks373, yMinor: 0.005, yPad: 7,
    yTitleX: 628, xTitleY: 383,
    setas: [[metano373[0], 1.49823, 1.50427, "#ff0000"], [metano373[1], 1.49421, 1.50024, "#ff0000"],
            [oxigenio373[0], 1.54671, 1.54085, "#0000ff"], [oxigenio373[1], 1.54451, 1.53902, "#0000ff"]],
    sens: sens373, sensPos: [[292, 1.5191], [935, 1.5170], [1631, 1.5144], [2307, 1.5130], [3036, 1.5122]],
    total: ["S=2.49 %", 2221, 1.4920],
    twork: ["=373 K", 2307, 1.5396]
  },
  {
    serie: curva323K, xDom: [0, 1400], yDom: [4.05, 4.375], box: [73, 383, 600, 727],
    xTicks: xTicks323, xMinor: 100, yTicks: yTicks323, yMinor: 0.025, yPad: 10,
    yTitleX: 28, xTitleY: 760,
    setas: [[metano323[0], 4.1936, 4.2267, "#ff0000"], [metano323[1], 4.1369, 4.1684, "#ff0000"],
            [oxigenio323[0], 4.3211, 4.2912, "#0000ff"], [oxigenio323[1], 4.2833, 4.2534, "#0000ff"]],
    sens: sens323, sensPos: [[78, 4.2479], [368, 4.1936], [645, 4.1922], [972, 4.1752], [1221, 4.1317]],
    metano: [36, 4.1487], o2: [199, 4.3211],
    total: ["S=2.17 %", 709, 4.0566],
    twork: ["=323 K", 1020, 4.3211]
  },
  {
    serie: curva423K, xDom: [0, 3000], yDom: [0.755, 0.79], box: [661, 387, 1192, 716],
    xTicks: xTicks423, xMinor: 250, yTicks: yTicks423, yMinor: 0.005, yPad: 7,
    yTitleX: 618, xTitleY: 755,
    setas: [[metano423[0], 0.7553, 0.7588, "#ff0000"], [metano423[1], 0.7562, 0.7597, "#ff0000"],
            [oxigenio423[0], 0.7863, 0.7831, "#0000ff"], [oxigenio423[1], 0.7856, 0.7824, "#0000ff"]],
    sens: sens423, sensPos: [[381, 0.7706], [847, 0.7700], [1427, 0.7679], [2099, 0.7673], [2627, 0.7672]],
    total: ["S=3.28 %", 1859, 0.7559],
    twork: ["=423 K", 1876, 0.7828]
  },
  {
    serie: curva473K, xDom: [0, 3910], yDom: [0.29, 0.32], box: [394, 768, 915, 1102],
    xTicks: xTicks473, xMinor: 250, yTicks: yTicks473, yMinor: 0.005, yPad: 7,
    yTitleX: 350, xTitleY: 1137,
    setas: [[metano473[0], 0.29153, 0.29452, "#ff0000"], [metano473[1], 0.29078, 0.29377, "#ff0000"],
            [oxigenio473[0], 0.31863, 0.31593, "#0000ff"], [oxigenio473[1], 0.31908, 0.31638, "#0000ff"]],
    sens: sens473, sensPos: [[465, 0.29885], [1141, 0.30046], [1861, 0.30226], [2754, 0.30145], [3580, 0.30096]],
    total: ["S=9,63 %", 2447, 0.29018],
    twork: ["=473 K", 2694, 0.31776]
  }
];

// ---------------- Desenho ----------------
const svg = d3.select("#fig");
svg.append("rect").attr("width", 1212).attr("height", 1138).attr("fill", "#fff");

function minorTicks(dom, step) {
  const out = [];
  const n = Math.round((dom[1] - dom[0]) / step);
  for (let i = 0; i <= n; i++) out.push(+(dom[0] + i * step).toFixed(6));
  return out;
}

function estiloEixo(g) {
  g.select(".domain").remove();
  g.selectAll(".tick line").attr("stroke", "#000").attr("stroke-width", 1);
  g.attr("font-family", SANS).attr("font-size", 14.5);
  g.selectAll(".tick text").attr("fill", "#000");
}

function textoTWork(g, x, y, valor) {
  const t = g.append("text").attr("x", x).attr("y", y)
    .attr("font-family", SERIF).attr("font-size", 23).attr("fill", NAVY);
  t.append("tspan").text("T");
  t.append("tspan").attr("font-size", 15).attr("dy", 6).text("Work");
  t.append("tspan").attr("dy", -6).text(valor);
  return t;
}

function textoO2(g, x, y) {
  const t = g.append("text")
    .attr("transform", `translate(${x},${y}) rotate(-90)`)
    .attr("font-family", SERIF).attr("font-size", 22).attr("fill", "#000");
  t.append("tspan").text("O");
  t.append("tspan").attr("font-size", 12).attr("dx", 3).attr("dy", 6).text("2");
}

function seta(g, x, yTail, yTip, cor) {
  const dir = Math.sign(yTip - yTail);
  const head = 13, half = 5;
  const yb = yTip - dir * head;
  g.append("line").attr("x1", x).attr("x2", x).attr("y1", yTail).attr("y2", yb + dir)
    .attr("stroke", cor).attr("stroke-width", 3);
  g.append("path").attr("d", `M${x - half},${yb}L${x + half},${yb}L${x},${yTip}Z`).attr("fill", cor);
}

paineis.forEach(p => {
  const [l, t, r, b] = p.box;
  const x = d3.scaleLinear().domain(p.xDom).range([l, r]);
  const y = d3.scaleLinear().domain(p.yDom).range([b, t]);
  const g = svg.append("g");

  // curva: linha fina + símbolos
  const linha = d3.line().x(d => x(d[0])).y(d => y(d[1]));
  g.append("path").datum(p.serie).attr("d", linha)
    .attr("fill", "none").attr("stroke", "#000").attr("stroke-width", 0.8);
  g.append("g").selectAll("circle").data(p.serie).join("circle")
    .attr("cx", d => x(d[0])).attr("cy", d => y(d[1])).attr("r", 2.8)
    .attr("fill", LARANJA).attr("stroke", VERDE).attr("stroke-width", 2.4);

  // eixos com marcas internas
  const xMin = minorTicks(p.xDom, p.xMinor).filter(v => !p.xTicks.includes(v));
  const yMin = minorTicks(p.yDom, p.yMinor).filter(v => !p.yTicks.some(k => Math.abs(k - v) < 1e-9));

  g.append("g").attr("transform", `translate(0,${b})`)
    .call(d3.axisBottom(x).tickValues(p.xTicks).tickSizeInner(-5).tickSizeOuter(0).tickPadding(8).tickFormat(d3.format("d")))
    .call(estiloEixo);
  g.append("g").attr("transform", `translate(0,${b})`)
    .call(d3.axisBottom(x).tickValues(xMin).tickSizeInner(-3).tickSizeOuter(0).tickFormat(""))
    .call(estiloEixo);
  g.append("g").attr("transform", `translate(0,${t})`)
    .call(d3.axisTop(x).tickValues(p.xTicks).tickSizeInner(-5).tickSizeOuter(0).tickFormat(""))
    .call(estiloEixo);
  g.append("g").attr("transform", `translate(0,${t})`)
    .call(d3.axisTop(x).tickValues(xMin).tickSizeInner(-3).tickSizeOuter(0).tickFormat(""))
    .call(estiloEixo);
  g.append("g").attr("transform", `translate(${l},0)`)
    .call(d3.axisLeft(y).tickValues(p.yTicks).tickSizeInner(-5).tickSizeOuter(0).tickPadding(p.yPad).tickFormat(d3.format(".2f")))
    .call(estiloEixo);
  g.append("g").attr("transform", `translate(${l},0)`)
    .call(d3.axisLeft(y).tickValues(yMin).tickSizeInner(-3).tickSizeOuter(0).tickFormat(""))
    .call(estiloEixo);
  g.append("g").attr("transform", `translate(${r},0)`)
    .call(d3.axisRight(y).tickValues(p.yTicks).tickSizeInner(-5).tickSizeOuter(0).tickFormat(""))
    .call(estiloEixo);
  g.append("g").attr("transform", `translate(${r},0)`)
    .call(d3.axisRight(y).tickValues(yMin).tickSizeInner(-3).tickSizeOuter(0).tickFormat(""))
    .call(estiloEixo);

  g.append("rect").attr("x", l).attr("y", t).attr("width", r - l).attr("height", b - t)
    .attr("fill", "none").attr("stroke", "#000").attr("stroke-width", 1.3);

  // títulos dos eixos
  g.append("text").attr("transform", `translate(${p.yTitleX},${(t + b) / 2}) rotate(-90)`)
    .attr("text-anchor", "middle").attr("font-family", SERIF).attr("font-size", 22)
    .attr("textLength", 170).attr("lengthAdjust", "spacingAndGlyphs")
    .text("Resistência (MΩ)");
  g.append("text").attr("x", (l + r) / 2).attr("y", p.xTitleY)
    .attr("text-anchor", "middle").attr("font-family", SERIF).attr("font-size", 19)
    .text("Tempo (s)");

  // setas de entrada de gás
  p.setas.forEach(([tm, v1, v2, cor]) => seta(g, x(tm), y(v1), y(v2), cor));

  // sensibilidade de cada ciclo
  p.sens.forEach((s, i) => {
    const [tm, v] = p.sensPos[i];
    g.append("text").attr("transform", `translate(${x(tm)},${y(v)}) rotate(-90)`)
      .attr("text-anchor", "middle").attr("dominant-baseline", "central")
      .attr("font-family", SERIF).attr("font-size", 17).text(s);
  });

  if (p.metano) {
    g.append("text").attr("transform", `translate(${x(p.metano[0])},${y(p.metano[1])}) rotate(-90)`)
      .attr("text-anchor", "middle").attr("dominant-baseline", "central")
      .attr("font-family", SERIF).attr("font-size", 17.5).text("METANO");
  }
  if (p.o2) textoO2(g, x(p.o2[0]), y(p.o2[1]));

  // sensibilidade total
  g.append("text").attr("x", x(p.total[1])).attr("y", y(p.total[2]))
    .attr("font-family", SERIF).attr("font-size", 24).attr("fill", "#000").text(p.total[0]);

  if (p.twork) textoTWork(g, x(p.twork[1]), y(p.twork[2]), p.twork[0]);

  if (p.bloco) {
    const bx = x(p.bloco.t);
    g.append("text").attr("x", bx).attr("y", y(p.bloco.v[0]))
      .attr("font-family", SERIF).attr("font-size", 23.5).attr("fill", NAVY).text(p.bloco.linhas[0]);
    textoTWork(g, bx, y(p.bloco.v[1]), p.bloco.temp);
    g.append("text").attr("x", bx).attr("y", y(p.bloco.v[2]))
      .attr("font-family", SERIF).attr("font-size", 23).attr("fill", NAVY).text(p.bloco.linhas[1]);
  }
});
</script>
</body>
</html>
